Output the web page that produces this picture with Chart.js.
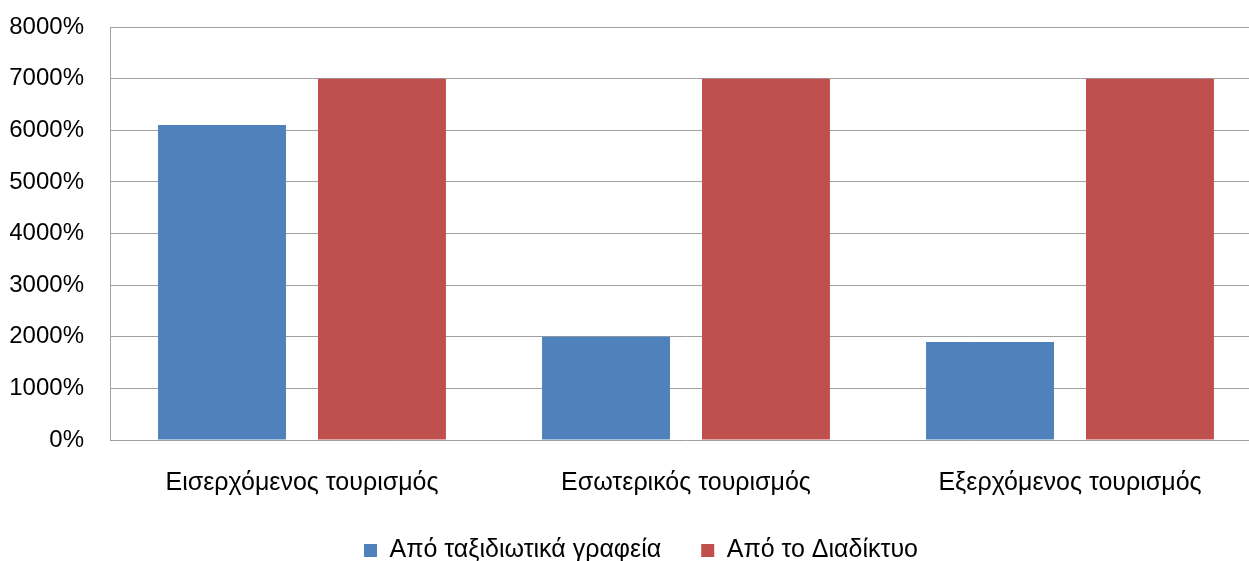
<!DOCTYPE html>
<html>
<head>
<meta charset="utf-8">
<script src="https://cdn.jsdelivr.net/npm/chart.js@4"></script>
<style>
html,body{margin:0;padding:0;background:#fff;overflow:hidden;}
#wrap{width:1249px;height:561px;overflow:hidden;}
</style>
</head>
<body>
<div id="wrap"><canvas id="c" width="1262" height="561"></canvas></div>
<script>
const categories = ["Εισερχόμενος τουρισμός", "Εσωτερικός τουρισμός", "Εξερχόμενος τουρισμός"];
const agencies = [6100, 2000, 1900];
const internet = [7000, 7000, 7000];
const seriesNames = ["Από ταξιδιωτικά γραφεία", "Από το Διαδίκτυο"];
const yTicks = [0, 1000, 2000, 3000, 4000, 5000, 6000, 7000, 8000];

const FONT = "Liberation Sans";
const shiftLegend = {
  id: 'shiftLegend',
  afterLayout(chart) {
    if (chart.legend) { chart.legend.left += 5; chart.legend.right += 5; }
  }
};
new Chart(document.getElementById('c'), {
  type: 'bar',
  data: {
    labels: categories,
    datasets: [
      {label: seriesNames[0], data: agencies, backgroundColor: '#4f81bd', categoryPercentage: 0.833, barPercentage: 0.8},
      {label: seriesNames[1], data: internet, backgroundColor: '#c0504d', categoryPercentage: 0.833, barPercentage: 0.8}
    ]
  },
  plugins: [shiftLegend],
  options: {
    responsive: false,
    animation: false,
    layout: {padding: {top: 27, right: 0, left: 10, bottom: -12}},
    plugins: {
      legend: {
        position: 'bottom',
        labels: {boxWidth: 13, boxHeight: 13, font: {family: FONT, size: 25}, color: '#000', padding: 40}
      },
      tooltip: {enabled: false}
    },
    scales: {
      x: {
        afterFit: (axis) => { axis.height = 58; },
        grid: {display: false, drawTicks: false},
        border: {display: false},
        ticks: {font: {family: FONT, size: 25}, color: '#000', padding: 28}
      },
      y: {
        min: 0, max: 8000,
        afterBuildTicks: (axis) => { axis.ticks = yTicks.map(v => ({value: v})); },
        afterFit: (axis) => { axis.width = 100; axis.paddingTop = 0; axis.paddingBottom = 0; },
        grid: {color: '#a0a0a0', lineWidth: 1, drawTicks: false},
        border: {display: true, color: '#a0a0a0'},
        ticks: {font: {family: FONT, size: 24}, color: '#000', padding: 26, callback: v => v + '%'}
      }
    }
  }
});
</script>
</body>
</html>
